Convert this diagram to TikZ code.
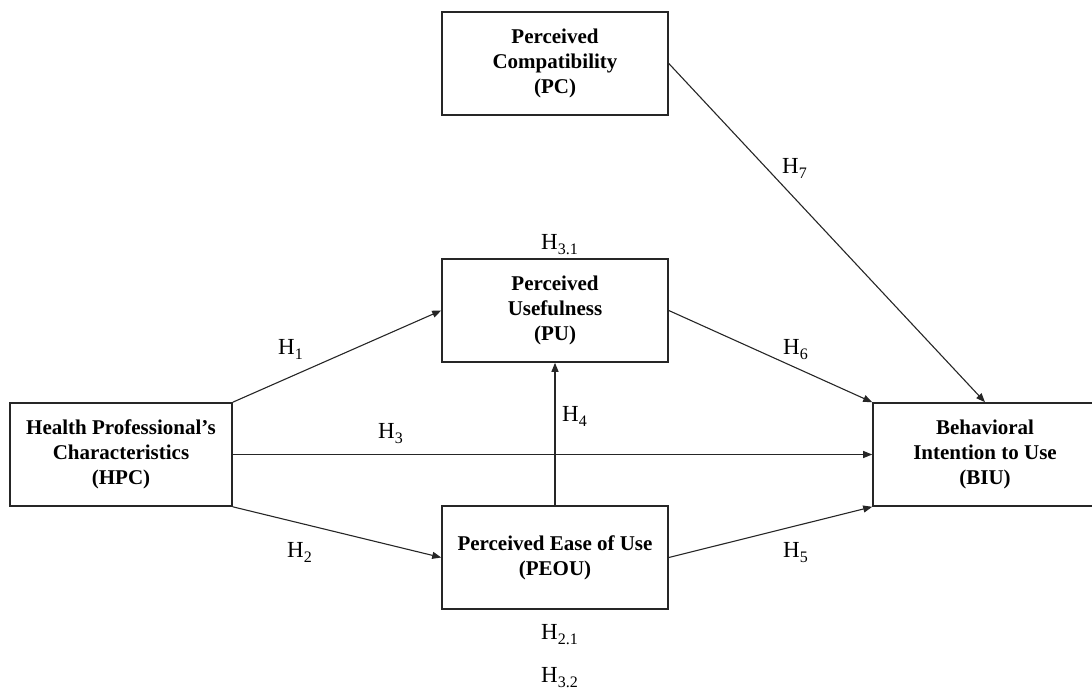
\documentclass[tikz,border=0pt]{standalone}
\usepackage{fontspec}
\setmainfont{Liberation Serif}
\usetikzlibrary{arrows.meta}
% subscript used in the hypothesis labels
\newcommand{\hypsub}[1]{\raisebox{-5pt}{\fontsize{16}{16}\selectfont #1}}
\begin{document}
\begin{tikzpicture}[x=1pt,y=-1pt,
  construct/.style={draw=black!85, line width=1.6pt, rectangle,
    minimum width=226pt, minimum height=103pt, align=center, inner sep=0pt,
    font=\fontsize{21}{25}\selectfont\bfseries},
  link/.style={draw=black!85, line width=1.1pt,
    -{Triangle[length=9pt,width=7pt]}},
  hyp/.style={inner sep=0pt, anchor=base west, font=\fontsize{23}{23}\selectfont}
]
\useasboundingbox (0,0) rectangle (1092,691);
\clip (0,0) rectangle (1092,691);

% constructs
\node[construct] (pc)   at (555,63.5)  {Perceived\\Compatibility\\(PC)};
\node[construct] (pu)   at (555,310.5) {Perceived\\Usefulness\\(PU)};
\node[construct, minimum width=222pt] (hpc) at (121,454.5) {Health Professional’s\\Characteristics\\(HPC)};
\node[construct] (peou) at (555,557.5) {Perceived Ease of Use\\(PEOU)};
\node[construct, minimum width=224pt] (biu) at (985,454.5) {Behavioral\\Intention to Use\\(BIU)};

% hypothesised paths
\draw[link] (hpc.north east) -- (pu.west);
\draw[link] (hpc.east) -- (biu.west);
\draw[link] (hpc.south east) -- (peou.west);
\draw[link] (peou.north) -- (pu.south);
\draw[link] (pu.east) -- (biu.north west);
\draw[link] (peou.east) -- (biu.south west);
\draw[link] (pc.east) -- (biu.north);

% hypothesis labels
\node[hyp] (h1)  at (278,354) {H\hypsub{1}};
\node[hyp] (h2)  at (287,557) {H\hypsub{2}};
\node[hyp] (h3)  at (378,438) {H\hypsub{3}};
\node[hyp] (h4)  at (562,421) {H\hypsub{4}};
\node[hyp] (h5)  at (783,557) {H\hypsub{5}};
\node[hyp] (h6)  at (783,354) {H\hypsub{6}};
\node[hyp] (h7)  at (782,173) {H\hypsub{7}};
\node[hyp] (h31) at (541,249) {H\hypsub{3.1}};
\node[hyp] (h21) at (541,639) {H\hypsub{2.1}};
\node[hyp] (h32) at (541,682) {H\hypsub{3.2}};
\end{tikzpicture}
\end{document}
